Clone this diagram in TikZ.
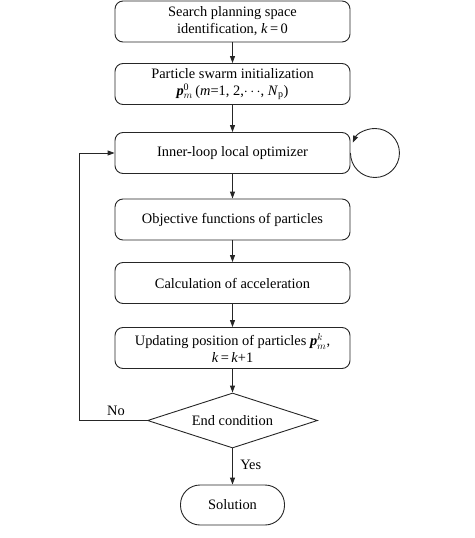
\documentclass[tikz,border=0pt]{standalone}
\usepackage{fontspec}
\setmainfont{Liberation Serif}
\usetikzlibrary{shapes.geometric,arrows.meta,calc}
\newcommand\bp{\textbf{\textit{p}}}
\tikzset{
  box/.style={draw, rounded corners=8pt, minimum width=235pt, minimum height=41pt, align=center, inner sep=1pt},
  dec/.style={draw, diamond, aspect=3.09, minimum width=170pt, minimum height=55pt, inner sep=0pt},
  term/.style={draw, rounded corners=19.5pt, minimum width=104pt, minimum height=40pt},
  conn/.style={line width=0.9pt, -{Triangle[length=7pt,width=5pt]}},
  every node/.style={font=\fontsize{14.4}{17}\selectfont},
}
\begin{document}
\begin{tikzpicture}[x=1pt,y=-1pt, line width=0.9pt, draw=black!85]
\useasboundingbox (0,0) rectangle (474,538);
\node[box] (b1) at (232.5,21.5) {Search planning space\\identification, \textit{k}\,=\,0};
\node[box] (b2) at (232.5,84) {Particle swarm initialization\\\bp$^{\mathrm{0}}_{m}$\,(\textit{m}=1, 2,$\cdots$, \textit{N}$_{\mathrm{p}}$)};
\node[box] (b3) at (232.5,153) {Inner-loop local optimizer};
\node[box] (b4) at (232.5,219.5) {Objective functions of particles};
\node[box] (b5) at (232.5,283) {Calculation of acceleration};
\node[box] (b6) at (232.5,348) {Updating position of particles \bp$^{k}_{m}$,\\\textit{k}\,=\,\textit{k}+1};
\node[dec] (d) at (232.5,420.5) {End condition};
\node[term] (s) at (232.5,505) {Solution};
\coordinate (fb1) at (79,420.5);
\coordinate (fb2) at (79,153);
\draw[conn] (b1) -- (b2);
\draw[conn] (b2) -- (b3);
\draw[conn] (b3) -- (b4);
\draw[conn] (b4) -- (b5);
\draw[conn] (b5) -- (b6);
\draw[conn] (b6) -- (d);
\draw[conn] (d) -- node[right=4pt, pos=0.45] {Yes} (s);
\draw[conn] (d.west) -- (fb1) -- (fb2) -- (b3.west);
\node (no) at (116,411) {No};
\draw[line width=0.9pt, -{Triangle[length=7pt,width=5pt]}] (b3.east) arc[start angle=180, end angle=-155, radius=24.5];
\end{tikzpicture}
\end{document}
